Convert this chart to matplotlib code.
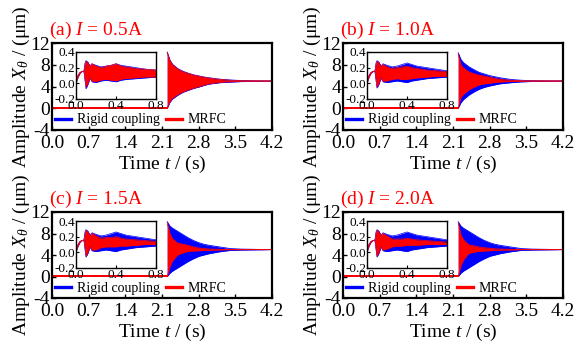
"""Amplitude response of rigid coupling vs MRFC at four currents (2x2 panels)."""

import matplotlib
matplotlib.use("Agg")
import matplotlib.pyplot as plt

BLUE = "#0000ff"
RED = "#ff0000"

matplotlib.rcParams.update({
    "font.family": "serif",
    "font.serif": ["Liberation Serif", "DejaVu Serif"],
    "mathtext.fontset": "custom",
    "mathtext.rm": "Liberation Serif",
    "mathtext.it": "Liberation Serif:italic",
    "axes.unicode_minus": False,
    "font.size": 14,
    "axes.linewidth": 1.6,
    "xtick.direction": "in",
    "ytick.direction": "in",
})

PANELS = ["(a)", "(b)", "(c)", "(d)"]
CURRENTS = ["0.5", "1.0", "1.5", "2.0"]

# main plot: flat level before the step, then the oscillation envelope
PRE_TIME = [0.0, 2.2]
PRE_LEVEL = [0.1, 0.1]
TIME_MAIN = [2.2, 2.25, 2.3, 2.4, 2.5, 2.6, 2.7, 2.8, 2.9, 3.0, 3.2, 3.4, 3.6, 4.2]

rigid_up_a = [10.3, 8.9, 8.1, 7.3, 6.8, 6.45, 6.15, 5.95, 5.75, 5.6, 5.35, 5.2, 5.1, 5.0]
rigid_lo_a = [0.0, 1.1, 1.7, 2.4, 2.95, 3.3, 3.65, 3.9, 4.2, 4.45, 4.7, 4.82, 4.9, 5.0]
mrfc_up_a = [10.3, 8.8, 8.0, 7.2, 6.7, 6.4, 6.1, 5.9, 5.7, 5.55, 5.3, 5.15, 5.05, 5.0]
mrfc_lo_a = [0.0, 1.2, 1.8, 2.5, 3.0, 3.35, 3.7, 3.95, 4.25, 4.5, 4.75, 4.88, 4.95, 5.0]

rigid_up_b = [10.2, 9.0, 8.4, 7.65, 7.1, 6.6, 6.3, 6.0, 5.8, 5.6, 5.3, 5.15, 5.08, 5.0]
rigid_lo_b = [0.0, 1.0, 1.6, 2.4, 3.0, 3.5, 3.85, 4.1, 4.3, 4.5, 4.7, 4.85, 4.92, 5.0]
mrfc_up_b = [10.0, 8.0, 7.4, 6.7, 6.35, 6.1, 5.9, 5.7, 5.5, 5.3, 5.15, 5.05, 5.02, 5.0]
mrfc_lo_b = [0.0, 2.0, 2.6, 3.35, 3.9, 4.3, 4.5, 4.6, 4.75, 4.85, 4.9, 4.95, 4.98, 5.0]

rigid_up_c = [10.2, 9.4, 9.0, 8.4, 7.8, 7.2, 6.7, 6.3, 6.0, 5.8, 5.5, 5.2, 5.1, 5.0]
rigid_lo_c = [0.0, 0.6, 1.0, 1.6, 2.2, 2.8, 3.3, 3.75, 4.0, 4.25, 4.6, 4.85, 4.92, 5.0]
mrfc_up_c = [10.0, 8.0, 7.0, 6.2, 6.0, 5.8, 5.5, 5.3, 5.2, 5.1, 5.05, 5.02, 5.0, 5.0]
mrfc_lo_c = [0.0, 1.8, 2.9, 4.05, 4.4, 4.7, 4.75, 4.8, 4.85, 4.9, 4.95, 4.98, 5.0, 5.0]

rigid_up_d = [10.2, 9.4, 9.0, 8.4, 7.8, 7.2, 6.7, 6.3, 6.0, 5.8, 5.5, 5.2, 5.1, 5.0]
rigid_lo_d = [0.0, 0.6, 1.0, 1.6, 2.2, 2.8, 3.3, 3.75, 4.0, 4.25, 4.6, 4.85, 4.92, 5.0]
mrfc_up_d = [10.0, 7.8, 6.8, 5.9, 5.7, 5.5, 5.35, 5.25, 5.15, 5.1, 5.05, 5.02, 5.0, 5.0]
mrfc_lo_d = [0.0, 2.0, 3.1, 4.3, 4.55, 4.7, 4.75, 4.8, 4.85, 4.9, 4.95, 4.98, 5.0, 5.0]

# inset: first 0.8 s
TIME_INSET = [0.0, 0.02, 0.04, 0.06, 0.08, 0.09, 0.1, 0.12, 0.14, 0.16, 0.2,
              0.25, 0.3, 0.35, 0.4, 0.45, 0.5, 0.6, 0.7, 0.8]

in_rigid_up_a = [0.0, 0.10, 0.14, 0.15, 0.16, 0.26, 0.29, 0.27, 0.22, 0.25, 0.23,
                 0.21, 0.22, 0.23, 0.25, 0.23, 0.22, 0.2, 0.18, 0.17]
in_rigid_lo_a = [0.0, 0.08, 0.13, 0.15, 0.15, 0.04, -0.07, -0.01, 0.07, 0.02, 0.01,
                 0.03, 0.04, 0.03, 0.02, 0.04, 0.05, 0.06, 0.07, 0.08]
in_mrfc_up_a = [0.0, 0.10, 0.14, 0.15, 0.16, 0.24, 0.28, 0.26, 0.22, 0.25, 0.22,
                0.20, 0.22, 0.23, 0.25, 0.22, 0.21, 0.19, 0.18, 0.17]
in_mrfc_lo_a = [0.0, 0.08, 0.13, 0.15, 0.15, 0.05, -0.05, 0.0, 0.07, 0.03, 0.02,
                0.04, 0.05, 0.04, 0.03, 0.05, 0.06, 0.07, 0.08, 0.08]

in_rigid_up_b = [0.0, 0.10, 0.14, 0.15, 0.16, 0.26, 0.29, 0.27, 0.22, 0.25, 0.23,
                 0.21, 0.22, 0.24, 0.26, 0.24, 0.22, 0.2, 0.18, 0.16]
in_rigid_lo_b = [0.0, 0.08, 0.13, 0.15, 0.15, 0.04, -0.06, -0.01, 0.07, 0.02, 0.01,
                 0.02, 0.03, 0.02, 0.01, 0.03, 0.04, 0.06, 0.07, 0.08]
in_mrfc_up_b = [0.0, 0.10, 0.14, 0.15, 0.16, 0.24, 0.28, 0.26, 0.22, 0.24, 0.21,
                0.19, 0.2, 0.21, 0.22, 0.2, 0.19, 0.17, 0.16, 0.15]
in_mrfc_lo_b = [0.0, 0.08, 0.13, 0.15, 0.15, 0.05, -0.05, 0.0, 0.07, 0.03, 0.03,
                0.05, 0.06, 0.05, 0.05, 0.06, 0.07, 0.08, 0.09, 0.09]

in_rigid_up_c = [0.0, 0.10, 0.14, 0.15, 0.16, 0.26, 0.29, 0.27, 0.22, 0.25, 0.23,
                 0.21, 0.22, 0.24, 0.26, 0.24, 0.22, 0.2, 0.18, 0.16]
in_rigid_lo_c = [0.0, 0.08, 0.13, 0.15, 0.15, 0.04, -0.06, -0.01, 0.07, 0.02, 0.01,
                 0.02, 0.03, 0.02, 0.01, 0.03, 0.04, 0.06, 0.07, 0.08]
in_mrfc_up_c = [0.0, 0.10, 0.14, 0.15, 0.16, 0.24, 0.28, 0.26, 0.22, 0.24, 0.21,
                0.18, 0.19, 0.19, 0.2, 0.18, 0.17, 0.16, 0.15, 0.14]
in_mrfc_lo_c = [0.0, 0.08, 0.13, 0.15, 0.15, 0.05, -0.05, 0.0, 0.07, 0.03, 0.03,
                0.06, 0.07, 0.07, 0.07, 0.08, 0.08, 0.09, 0.1, 0.1]

in_rigid_up_d = [0.0, 0.10, 0.14, 0.15, 0.16, 0.26, 0.29, 0.27, 0.22, 0.25, 0.23,
                 0.21, 0.22, 0.24, 0.26, 0.24, 0.22, 0.2, 0.18, 0.16]
in_rigid_lo_d = [0.0, 0.08, 0.13, 0.15, 0.15, 0.04, -0.06, -0.01, 0.07, 0.02, 0.01,
                 0.02, 0.03, 0.02, 0.01, 0.03, 0.04, 0.06, 0.07, 0.08]
in_mrfc_up_d = [0.0, 0.10, 0.14, 0.15, 0.16, 0.24, 0.28, 0.26, 0.22, 0.24, 0.21,
                0.17, 0.17, 0.17, 0.18, 0.17, 0.16, 0.15, 0.14, 0.13]
in_mrfc_lo_d = [0.0, 0.08, 0.13, 0.15, 0.15, 0.05, -0.05, 0.0, 0.07, 0.03, 0.04,
                0.07, 0.08, 0.08, 0.09, 0.09, 0.09, 0.1, 0.1, 0.1]

MAIN = [
    (rigid_up_a, rigid_lo_a, mrfc_up_a, mrfc_lo_a),
    (rigid_up_b, rigid_lo_b, mrfc_up_b, mrfc_lo_b),
    (rigid_up_c, rigid_lo_c, mrfc_up_c, mrfc_lo_c),
    (rigid_up_d, rigid_lo_d, mrfc_up_d, mrfc_lo_d),
]
INSET = [
    (in_rigid_up_a, in_rigid_lo_a, in_mrfc_up_a, in_mrfc_lo_a),
    (in_rigid_up_b, in_rigid_lo_b, in_mrfc_up_b, in_mrfc_lo_b),
    (in_rigid_up_c, in_rigid_lo_c, in_mrfc_up_c, in_mrfc_lo_c),
    (in_rigid_up_d, in_rigid_lo_d, in_mrfc_up_d, in_mrfc_lo_d),
]

W, H = 583, 347
# axes boxes in pixels: left, top, width, height
BOXES = [(52, 43, 220, 87), (343, 43, 220, 87), (52, 212, 220, 86), (343, 212, 220, 86)]


def band(ax, t, up, lo, color, lw=0.6):
    ax.fill_between(t, lo, up, color=color, linewidth=0)
    ax.plot(t, up, color=color, lw=lw)
    ax.plot(t, lo, color=color, lw=lw)


fig = plt.figure(figsize=(W / 100, H / 100), dpi=100)

for i, (left, top, w, h) in enumerate(BOXES):
    ax = fig.add_axes([left / W, 1 - (top + h) / H, w / W, h / H])
    r_up, r_lo, m_up, m_lo = MAIN[i]
    ax.plot(PRE_TIME, PRE_LEVEL, color=BLUE, lw=1.4, label="Rigid coupling")
    band(ax, TIME_MAIN, r_up, r_lo, BLUE)
    ax.plot(PRE_TIME, PRE_LEVEL, color=RED, lw=1.4, label="MRFC")
    band(ax, TIME_MAIN, m_up, m_lo, RED)

    ax.set_xlim(0, 4.2)
    ax.set_ylim(-4, 12)
    ax.set_xticks([0.0, 0.7, 1.4, 2.1, 2.8, 3.5, 4.2])
    ax.set_xticklabels(["0.0", "0.7", "1.4", "2.1", "2.8", "3.5", "4.2"])
    ax.set_yticks([-4, 0, 4, 8, 12])
    ax.tick_params(length=3, width=1)
    ax.tick_params(axis="y", pad=1.5)
    ax.tick_params(axis="x", pad=3.5)
    ax.set_xlabel(r"Time $t$ / (s)", labelpad=1.5)
    ax.set_ylabel(r"Amplitude $X_\theta$ / (μm)", labelpad=-1)
    ax.text(-0.015, 1.02, f"{PANELS[i]} $I$ = {CURRENTS[i]}A", color=RED,
            transform=ax.transAxes, ha="left", va="bottom")
    leg = ax.legend(loc="center left", bbox_to_anchor=(0.015, 0.115), ncol=2,
                    frameon=False, fontsize=10, handlelength=1.15,
                    handletextpad=0.4, columnspacing=0.45, borderaxespad=0,
                    borderpad=0)
    for line in leg.get_lines():
        line.set_linewidth(2.4)

    # inset
    ix = fig.add_axes([(left + 24) / W, 1 - (top + 9 + 47) / H, 80 / W, 47 / H])
    ri_up, ri_lo, mi_up, mi_lo = INSET[i]
    band(ix, TIME_INSET, ri_up, ri_lo, BLUE, lw=0.5)
    band(ix, TIME_INSET, mi_up, mi_lo, RED, lw=0.5)
    ix.set_xlim(0, 0.8)
    ix.set_ylim(-0.2, 0.4)
    ix.set_xticks([0.0, 0.4, 0.8])
    ix.set_xticklabels(["0.0", "0.4", "0.8"])
    ix.set_yticks([-0.2, 0.0, 0.2, 0.4])
    ix.set_yticklabels(["-0.2", "0.0", "0.2", "0.4"])
    ix.tick_params(labelsize=9.5, length=2.5, width=0.8, pad=0.5)
    for s in ix.spines.values():
        s.set_linewidth(1.0)

fig.savefig("out.png", dpi=100)
